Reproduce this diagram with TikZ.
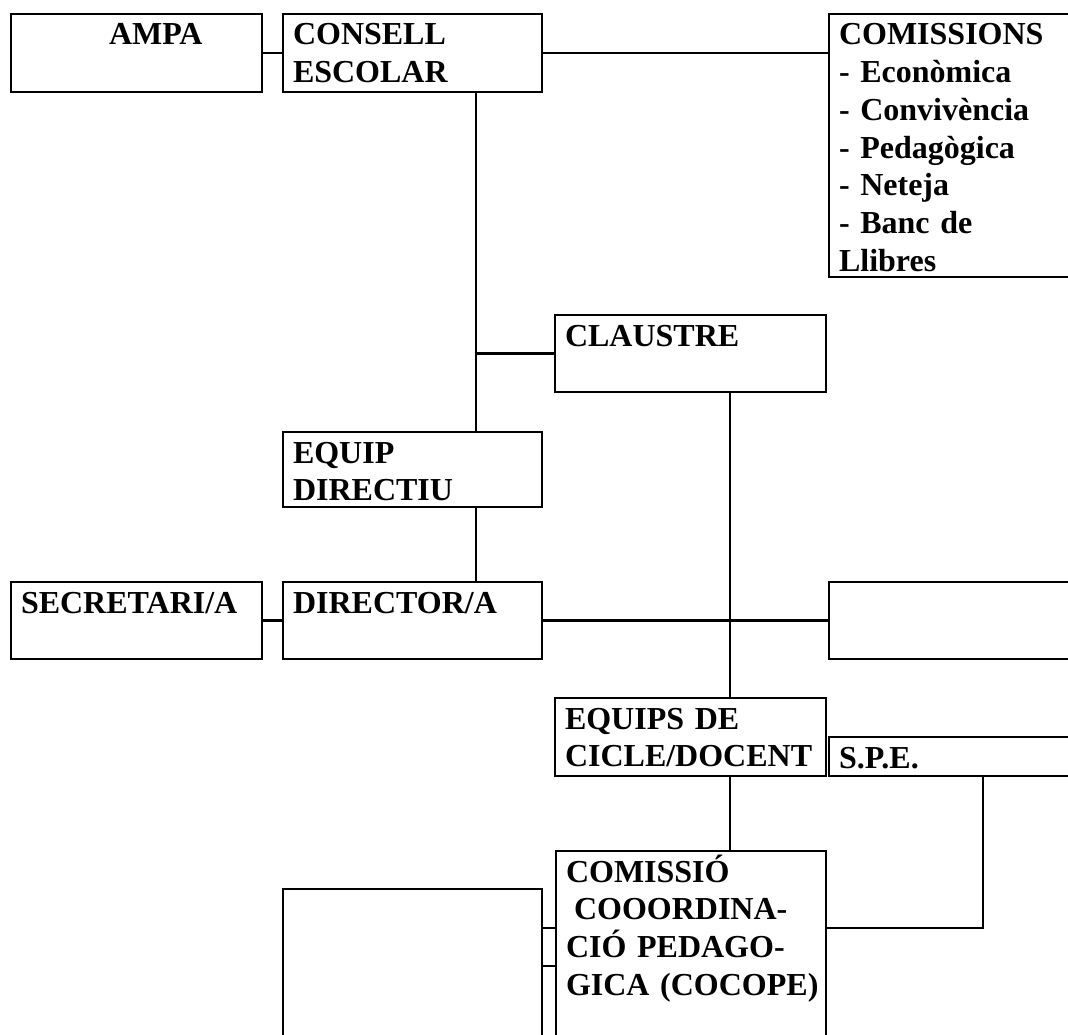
\documentclass[tikz,border=0pt]{standalone}
\usepackage{fontspec}
\setmainfont{Liberation Serif}
\usepackage{tikz}
\usetikzlibrary{positioning}
\tikzset{orgbox/.style={rectangle,draw,line width=2.2pt,outer sep=0pt,anchor=north west,inner xsep=10pt,inner ysep=0pt,align=left,text height=31pt,font=\bfseries\fontsize{32}{37.7}\selectfont}}

\begin{document}
\begin{tikzpicture}[x=1pt,y=-1pt,line width=2.2pt]
      \useasboundingbox (0,0) rectangle (1068,1035);
      \clip (0,0) rectangle (1068,1035);
      \node (ampa) at (11,14)[orgbox,text width=231pt,text depth=47pt] {\hspace*{88pt}AMPA};
      \node (consell) at (283,14)[orgbox,text width=239pt,text depth=47pt] {CONSELL\\ESCOLAR};
      \node (comissions) at (829,14)[orgbox,text width=251pt,text depth=232pt]
      {COMISSIONS\\- Econòmica\\- Convivència\\- Pedagògica\\- Neteja\\- Banc de\\Llibres};
      \node (claustre) at (555,315)[orgbox,text width=251pt,text depth=46pt] {CLAUSTRE};
      \node (directiu) at (283,432)[orgbox,text width=239pt,text depth=44pt] {EQUIP\\DIRECTIU};
      \node (secretari) at (11,582)[orgbox,text width=231pt,text depth=46pt] {SECRETARI/A};
      \node (director) at (283,582)[orgbox,text width=239pt,text depth=46pt] {DIRECTOR/A};
      \node (dirright) at (829,582)[orgbox,text width=251pt,text depth=46pt] {};
      \node (equips) at (555,698)[orgbox,text width=251pt,text depth=47pt] {EQUIPS DE\\\mbox{CICLE/DOCENT}};
      \node (spe) at (829,737)[orgbox,text width=251pt,text depth=8pt] {S.P.E.};
      \node (cocope) at (556,851)[orgbox,text width=250pt,text depth=178pt]
      {COMISSIÓ\\\hspace*{8pt}COOORDINA-\\CIÓ PEDAGO-\\\mbox{GICA (COCOPE)}};
      \node (lbox) at (283,889)[orgbox,text width=239pt,text depth=140pt] {};
      \coordinate (cs) at ([xshift=193pt]consell.south west);
        \draw (ampa.east) -- (consell.west);
        \draw (consell.east) -- (consell.east -| comissions.west);
        \draw (cs) -- ([xshift=193pt]directiu.north west);
        \draw (claustre.west) -- (claustre.west -| cs);
        \draw ([xshift=193pt]directiu.south west) -- ([xshift=193pt]director.north west);
        \draw (secretari.east) -- (director.west);
        \draw (director.east) -- (dirright.west);
        \draw ([xshift=175pt]claustre.south west) -- ([xshift=175pt]equips.north west);
        \draw ([xshift=175pt]equips.south west) -- ([xshift=174pt]cocope.north west);
        \draw ([yshift=-77pt]cocope.north east) -| ([xshift=154pt]spe.south west);
        \draw ([yshift=-39pt]lbox.north east) -- ([yshift=-77pt]cocope.north west);
        \draw ([yshift=-77pt]lbox.north east) -- ([yshift=-115pt]cocope.north west);
\end{tikzpicture}
\end{document}
